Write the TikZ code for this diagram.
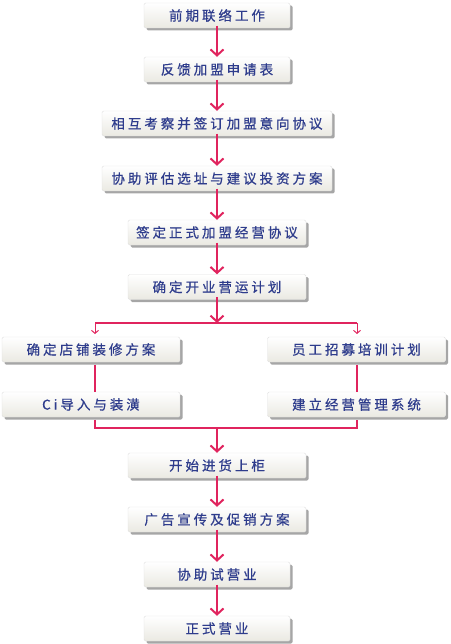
\documentclass[tikz,border=0pt]{standalone}
\usepackage{fontspec}
\usepackage{xcolor}
\usepackage{tikz}
\usetikzlibrary{arrows.meta,shadows}
\newfontfamily\cjk[LetterSpace=22,FakeBold=0.6]{Noto Sans CJK SC}
\definecolor{flowred}{HTML}{E0245E}
\definecolor{flowblue}{HTML}{2E3C8C}
\definecolor{boxbottom}{HTML}{EAE9E2}
\tikzset{
	stepbox/.style={draw=black!12, rounded corners=1.5pt, top color=white, bottom color=boxbottom,
		minimum height=25pt, inner sep=0pt, text=flowblue, font=\cjk\fontsize{13.5}{13.5}\selectfont,
		general shadow={fill=black!35, shadow xshift=2.5pt, shadow yshift=-2.5pt}},
	narrow/.style={stepbox, minimum width=146pt},
	middle/.style={stepbox, minimum width=178pt},
	wide/.style={stepbox, minimum width=230pt},
	flow/.style={draw=flowred, line width=2pt, -{Straight Barb[length=6pt,width=13pt]}},
	link/.style={draw=flowred, line width=1.7pt},
	fork/.style={draw=flowred, line width=1pt, -{Straight Barb[length=3pt,width=7pt]}}
}

\begin{document}
\begin{tikzpicture}[x=1pt, y=-1pt]
	\useasboundingbox (0,0) rectangle (450,644);
	
	\node[narrow] (contact) at (217,15.5) {前期联络工作};
	\node[narrow] (apply) at (217,69.5) {反馈加盟申请表};
	\node[wide] (inspect) at (217,123.5) {相互考察并签订加盟意向协议};
	\node[wide] (site) at (217,178.5) {协助评估选址与建议投资方案};
	\node[middle] (sign) at (217,232.5) {签定正式加盟经营协议};
	\node[middle] (plan) at (217,287) {确定开业营运计划};
	
	\node[middle] (decor) at (91,349.5) {确定店铺装修方案};
	\node[middle] (ci) at (91,404.5) {Ci导入与装潢};
	\node[middle] (staff) at (356.5,349.5) {员工招募培训计划};
	\node[middle] (system) at (356.5,404.5) {建立经营管理系统};
	
	\node[middle] (stock) at (217,465.5) {开始进货上柜};
	\node[middle] (promo) at (217,519.5) {广告宣传及促销方案};
	\node[narrow] (trial) at (217,574.5) {协助试营业};
	\node[narrow] (open) at (217,628.5) {正式营业};
	
	\coordinate (split) at (217,323);
	\coordinate (splitL) at (95,323);
	\coordinate (splitR) at (357,323);
	\coordinate (joinL) at (95,428);
	\coordinate (joinR) at (357,428);
	\coordinate (join) at (217,428);
	
	\draw[flow] (contact.south) ++(0,-2.5) -- (apply.north);
	\draw[flow] (apply.south) ++(0,-2.5) -- (inspect.north);
	\draw[flow] (inspect.south) ++(0,-2.5) -- (site.north);
	\draw[flow] (site.south) ++(0,-2.5) -- (sign.north);
	\draw[flow] (sign.south) ++(0,-2.5) -- (plan.north);
	\draw[flow] (plan.south) ++(0,-2.5) -- (split);
	
	\draw[link] (splitL) -- (splitR);
	\draw[fork] (splitL) -- (95,334);
	\draw[fork] (splitR) -- (357,334);
	
	\draw[link] (95,364.5) -- (95,392);
	\draw[link] (357,364.5) -- (357,392);
	
	\draw[link] (95,419.5) -- (joinL) -- (joinR) -- (357,419.5);
	\draw[flow] (join) -- (stock.north);
	\draw[flow] (stock.south) ++(0,-2.5) -- (promo.north);
	\draw[flow] (promo.south) ++(0,-2.5) -- (trial.north);
	\draw[flow] (trial.south) ++(0,-2.5) -- (open.north);
\end{tikzpicture}
\end{document}
